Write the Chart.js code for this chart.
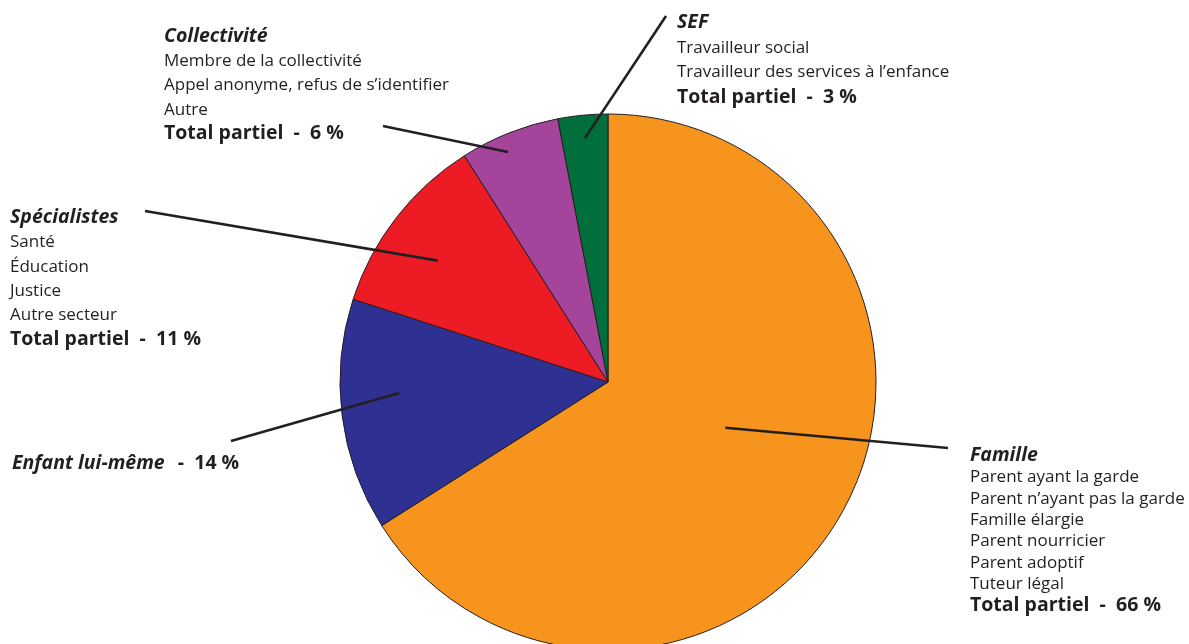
<!DOCTYPE html>
<html lang="fr">
<head>
<meta charset="utf-8">
<title>Sources des signalements</title>
<script src="https://cdn.jsdelivr.net/npm/chart.js@4.4.1/dist/chart.umd.min.js"></script>
<style>
  html, body { margin: 0; padding: 0; background: #fff; overflow: hidden; }
  #wrap { position: relative; width: 1189px; height: 764px; }
</style>
</head>
<body>
<div id="wrap"><canvas id="graphique"></canvas></div>
<script>
// Données
const categories = ['Famille', 'Enfant lui-même', 'Spécialistes', 'Collectivité', 'SEF'];
const pourcentages = [66, 14, 11, 6, 3];
const couleurs = ['#f7941d', '#2e3192', '#ed1c24', '#a4449a', '#006f3c'];

// Détails de chaque groupe (texte des étiquettes)
const detailsFamille = ['Parent ayant la garde', 'Parent n\u2019ayant pas la garde', 'Famille élargie',
  'Parent nourricier', 'Parent adoptif', 'Tuteur légal'];
const detailsEnfant = [];
const detailsSpecialistes = ['Santé', 'Éducation', 'Justice', 'Autre secteur'];
const detailsCollectivite = ['Membre de la collectivité', 'Appel anonyme, refus de s\u2019identifier', 'Autre'];
const detailsSef = ['Travailleur social', 'Travailleur des services à l\u2019enfance'];

const encre = '#231f20';
const police = '"Open Sans", Lato, sans-serif';

// Placement des étiquettes : x, ligne de base du titre, interligne,
// point d'attache du trait (angle en degrés dans la part + fraction du rayon)
const etiquettes = [
  { x: 970, y: 461, pas: 21.3, details: detailsFamille, trait: { angle: 21.3, frac: 0.47, x: 948, y: 448 } },
  { x: 12, y: 469, pas: 24, details: detailsEnfant, enLigne: true, trait: { angle: 177, frac: 0.78, x: 231, y: 441 } },
  { x: 10, y: 223, pas: 24.3, details: detailsSpecialistes, trait: { angle: 215.5, frac: 0.78, x: 145, y: 211 } },
  { x: 164, y: 42, pas: 24.2, details: detailsCollectivite, trait: { angle: 246.5, frac: 0.936, x: 383, y: 126 } },
  { x: 677, y: 28, pas: 24.7, details: detailsSef, trait: { angle: 264.6, frac: 0.914, x: 666, y: 16 } },
];

const pluginEtiquettes = {
  id: 'etiquettes',
  afterDraw(chart) {
    const ctx = chart.ctx;
    const arc = chart.getDatasetMeta(0).data[0];
    const { x: cx, y: cy, outerRadius } = arc.getProps(['x', 'y', 'outerRadius'], true);
    ctx.save();
    // traits de rappel
    ctx.strokeStyle = encre;
    ctx.lineWidth = 2.6;
    ctx.lineCap = 'butt';
    etiquettes.forEach((e) => {
      const a = e.trait.angle * Math.PI / 180;
      const r = outerRadius * e.trait.frac;
      ctx.beginPath();
      ctx.moveTo(cx + r * Math.cos(a), cy + r * Math.sin(a));
      ctx.lineTo(e.trait.x, e.trait.y);
      ctx.stroke();
    });
    // textes
    ctx.fillStyle = encre;
    ctx.textBaseline = 'alphabetic';
    ctx.textAlign = 'left';
    etiquettes.forEach((e, i) => {
      const total = '  -  ' + pourcentages[i] + ' %';
      ctx.font = 'italic bold 19.5px ' + police;
      ctx.fillText(categories[i], e.x, e.y);
      if (e.enLigne) {
        const w = ctx.measureText(categories[i]).width;
        ctx.font = 'bold 19.5px ' + police;
        ctx.fillText(total, e.x + w + 3, e.y);
        return;
      }
      ctx.font = '17px ' + police;
      e.details.forEach((t, k) => {
        ctx.fillText(t, e.x, e.y + e.pas * (k + 1));
      });
      ctx.font = 'bold 19.5px ' + police;
      ctx.fillText('Total partiel' + total, e.x, e.y + e.pas * (e.details.length + 1) + 0.5);
    });
    ctx.restore();
  },
};

new Chart(document.getElementById('graphique'), {
  type: 'pie',
  data: {
    labels: categories,
    datasets: [{
      data: pourcentages,
      backgroundColor: couleurs,
      borderColor: encre,
      borderWidth: 1,
      hoverOffset: 0,
    }],
  },
  options: {
    responsive: true,
    maintainAspectRatio: false,
    animation: false,
    radius: 268,
    layout: { padding: { top: 114, bottom: 114, left: 27, right: 0 } },
    plugins: {
      legend: { display: false },
      tooltip: { enabled: false },
    },
  },
  plugins: [pluginEtiquettes],
});
</script>
</body>
</html>
